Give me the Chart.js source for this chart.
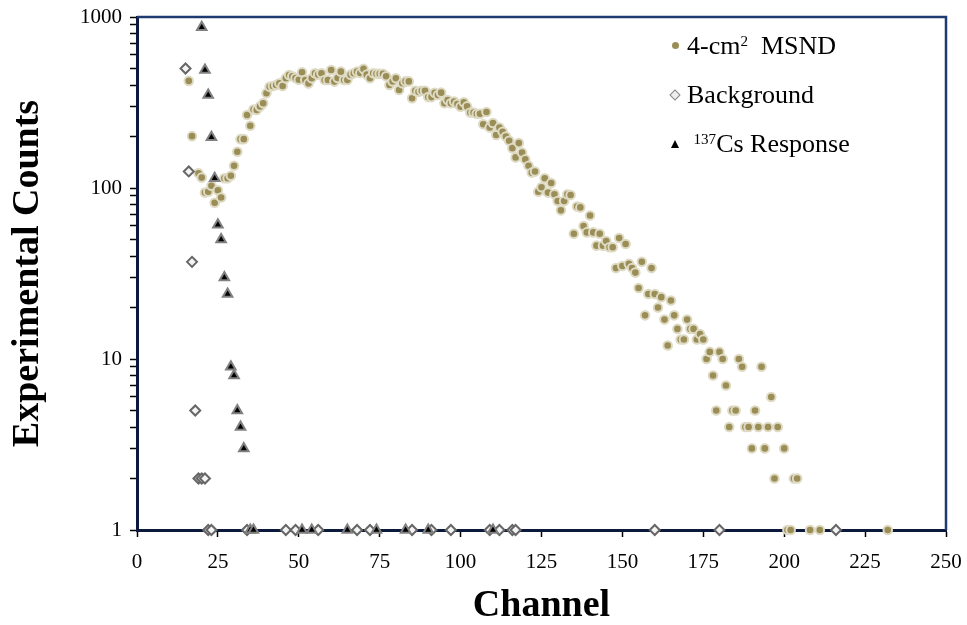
<!DOCTYPE html>
<html>
<head>
<meta charset="utf-8">
<script src="https://cdn.jsdelivr.net/npm/chart.js@4/dist/chart.umd.min.js"></script>
<style>
  body { margin: 0; background: #fff; }
  #wrap { position: relative; width: 967px; height: 625px; }
  #legend { position: absolute; left: 665px; top: 21px; font-family: 'Liberation Serif', 'Times New Roman', serif; font-size: 26px; color: #000; }
  #legend .row { height: 49px; display: flex; align-items: center; white-space: nowrap; }
  #legend .mk { width: 20px; display: inline-flex; justify-content: center; align-items: center; margin-right: 2px; }
  #legend sup { font-size: 58%; vertical-align: 0.55em; line-height: 0; }
</style>
</head>
<body>
<div id="wrap">
  <canvas id="chart" width="967" height="625"></canvas>
  <div id="legend"></div>
</div>
<script>
const msndChannel = [16, 17, 19, 20, 21, 22, 23, 24, 25, 26, 27, 28, 29, 30, 31, 32, 33, 34, 35, 36, 37, 38, 39, 40,
  41, 42, 43, 44, 45, 46, 47, 48, 49, 50, 51, 52, 53, 54, 55, 56, 57, 58, 59, 60, 61, 62, 63, 64, 65, 66, 67, 68, 69, 70,
  71, 72, 73, 74, 75, 76, 77, 78, 79, 80, 81, 82, 83, 84, 85, 86, 87, 88, 89, 90, 91, 92, 93, 94, 95, 96, 97, 98, 99, 100,
  101, 102, 103, 104, 105, 106, 107, 108, 109, 110, 111, 112, 113, 114, 115, 116, 117, 118, 119, 120, 121, 122, 123, 124,
  125, 126, 127, 128, 129, 130, 131, 132, 133, 134, 135, 136, 137, 138, 139, 140, 141, 142, 143, 144, 145, 146, 147, 148,
  149, 150, 151, 152, 153, 154, 155, 156, 157, 158, 159, 160, 161, 162, 163, 164, 165, 166, 167, 168, 169, 170, 171, 172,
  173, 174, 175, 176, 177, 178, 179, 180, 181, 182, 183, 184, 185, 186, 187, 188, 189, 190, 191, 192, 193, 194, 195, 196,
  197, 198, 200, 201, 202, 203, 204, 208, 211, 232];
const msndCounts = [423, 201, 122, 115, 94, 95, 103, 82, 97, 88, 114, 114, 118, 135, 163, 193, 193, 267, 231, 288, 286, 300, 313, 358,
  391, 395, 400, 410, 395, 438, 458, 450, 440, 430, 475, 428, 409, 438, 469, 460, 469, 428, 428, 490, 419, 440, 479, 428, 428, 460, 469, 479, 470, 497,
  460, 438, 469, 465, 465, 465, 450, 400, 420, 438, 374, 410, 420, 420, 335, 370, 365, 370, 370, 340, 340, 360, 350, 361, 313, 327, 313, 320, 310, 299,
  317, 300, 276, 276, 272, 272, 236, 278, 226, 240, 204, 226, 213, 200, 189, 171, 151, 183, 161, 147, 135, 123, 125, 95,
  101, 114, 94, 107, 92, 84, 74, 84, 92, 91, 54, 78, 77, 60, 55, 69, 55, 46, 54, 46, 49, 45, 45, 34,
  51, 35, 47, 36, 34, 32, 26, 37, 18, 24, 34, 24, 20, 23, 17, 12, 22, 18, 15, 13, 13, 17, 15, 15,
  13, 14, 13, 10, 11, 8, 5, 11, 10, 7, 4, 5, 5, 10, 9, 4, 4, 3, 5, 4, 9, 3, 4, 6,
  2, 4, 3, 1, 1, 2, 2, 1, 1, 1];

const bgChannel = [15, 16, 17, 18, 19, 20, 21, 22, 23, 34, 46, 49, 56, 68, 72, 85, 91, 97, 109, 112, 116, 117, 160, 180, 216];
const bgCounts = [500, 125, 37, 5, 2, 2, 2, 1, 1, 1, 1, 1, 1, 1, 1, 1, 1, 1, 1, 1, 1, 1, 1, 1, 1];

const csChannel = [20, 21, 22, 23, 24, 25, 26, 27, 28, 29, 30, 31, 32, 33, 35, 36, 51, 54, 65, 74, 83, 90, 110];
const csCounts = [870, 490, 350, 198, 114, 61, 50, 30, 24, 9, 8, 5, 4, 3, 1, 1, 1, 1, 1, 1, 1, 1, 1];

const seriesLabels = ['4-cm² MSND', 'Background', '137Cs Response'];
const legendHtml = ['4-cm<sup>2</sup>&nbsp; MSND', 'Background', '&nbsp;<sup>137</sup>Cs Response'];
const xTicks = [0, 25, 50, 75, 100, 125, 150, 175, 200, 225, 250];
const yMajorTicks = [1, 10, 100, 1000];

const pts = (xs, ys) => xs.map((x, i) => ({ x: x, y: ys[i] }));
const serif = "'Liberation Serif', 'Times New Roman', serif";

const frame = {
  id: 'frame',
  beforeDatasetsDraw(chart) {
    const { ctx, chartArea: a } = chart;
    ctx.save();
    ctx.strokeStyle = '#1F3A70';
    ctx.lineWidth = 2.5;
    ctx.beginPath();
    ctx.moveTo(a.left, a.top);
    ctx.lineTo(a.right, a.top);
    ctx.lineTo(a.right, a.bottom);
    ctx.stroke();
    ctx.restore();
  }
};

const chart = new Chart(document.getElementById('chart'), {
  type: 'scatter',
  data: {
    datasets: [{
      label: seriesLabels[0],
      data: pts(msndChannel, msndCounts),
      pointStyle: 'circle',
      pointRadius: 4.3,
      pointBorderWidth: 2,
      backgroundColor: '#9A8E56',
      borderColor: '#DEDAC4',
      order: 3
    }, {
      label: seriesLabels[1],
      data: pts(bgChannel, bgCounts),
      pointStyle: 'rectRot',
      pointRadius: 5,
      pointBorderWidth: 2,
      backgroundColor: '#F4F4F4',
      borderColor: '#666666',
      order: 2
    }, {
      label: seriesLabels[2],
      data: pts(csChannel, csCounts),
      pointStyle: 'triangle',
      pointRadius: 5.5,
      pointBorderWidth: 2,
      backgroundColor: '#000000',
      borderColor: '#808080',
      order: 1
    }]
  },
  options: {
    responsive: false,
    animation: false,
    clip: false,
    layout: { padding: { top: 17, right: 21, left: 0, bottom: 0 } },
    plugins: { legend: { display: false }, tooltip: { enabled: false } },
    scales: {
      x: {
        type: 'linear',
        min: 0,
        max: 250,
        afterFit: (s) => { s.height = 95; s.paddingLeft = 0; s.paddingRight = 0; },
        afterBuildTicks: (s) => { s.ticks = xTicks.map(v => ({ value: v })); },
        border: { display: true, color: '#0B1A3C', width: 3 },
        grid: { drawOnChartArea: false, drawTicks: true, tickLength: 7, tickColor: '#000', tickWidth: 1.5 },
        ticks: { color: '#000', font: { family: serif, size: 21 }, padding: 13, maxRotation: 0 },
        title: { display: true, text: 'Channel', color: '#000', font: { family: serif, size: 38, weight: 'bold', lineHeight: 1 }, padding: 0 }
      },
      y: {
        type: 'logarithmic',
        min: 1,
        max: 1000,
        afterFit: (s) => { s.width = 137; s.paddingTop = 0; s.paddingBottom = 0; },
        afterBuildTicks: (s) => {
          const t = [];
          yMajorTicks.forEach((v, i) => {
            t.push({ value: v });
            if (i < yMajorTicks.length - 1) for (let m = 2; m <= 9; m++) t.push({ value: v * m });
          });
          s.ticks = t;
        },
        border: { display: true, color: '#0B1A3C', width: 3 },
        grid: { drawOnChartArea: false, drawTicks: true, tickLength: 7, tickColor: '#000', tickWidth: 1.5 },
        ticks: {
          autoSkip: false,
          color: '#000',
          font: { family: serif, size: 21 },
          padding: 8,
          callback: (v) => yMajorTicks.includes(v) ? String(v) : ''
        },
        title: { display: true, text: 'Experimental Counts', color: '#000', font: { family: serif, size: 38, weight: 'bold', lineHeight: 1 }, padding: { top: 9, bottom: 0 } }
      }
    }
  },
  plugins: [frame]
});

// html legend so the superscripts stay real text
const markers = [
  '<span style="width:7px;height:7px;border-radius:50%;background:#9A8E56;display:inline-block"></span>',
  '<span style="width:6px;height:6px;transform:rotate(45deg);background:#EEE;border:1px solid #888;display:inline-block"></span>',
  '<span style="width:0;height:0;border-left:4px solid transparent;border-right:4px solid transparent;border-bottom:8px solid #000;display:inline-block"></span>'
];
document.getElementById('legend').innerHTML = legendHtml.map((h, i) =>
  `<div class="row"><span class="mk">${markers[i]}</span><span>${h}</span></div>`).join('');
</script>
</body>
</html>
